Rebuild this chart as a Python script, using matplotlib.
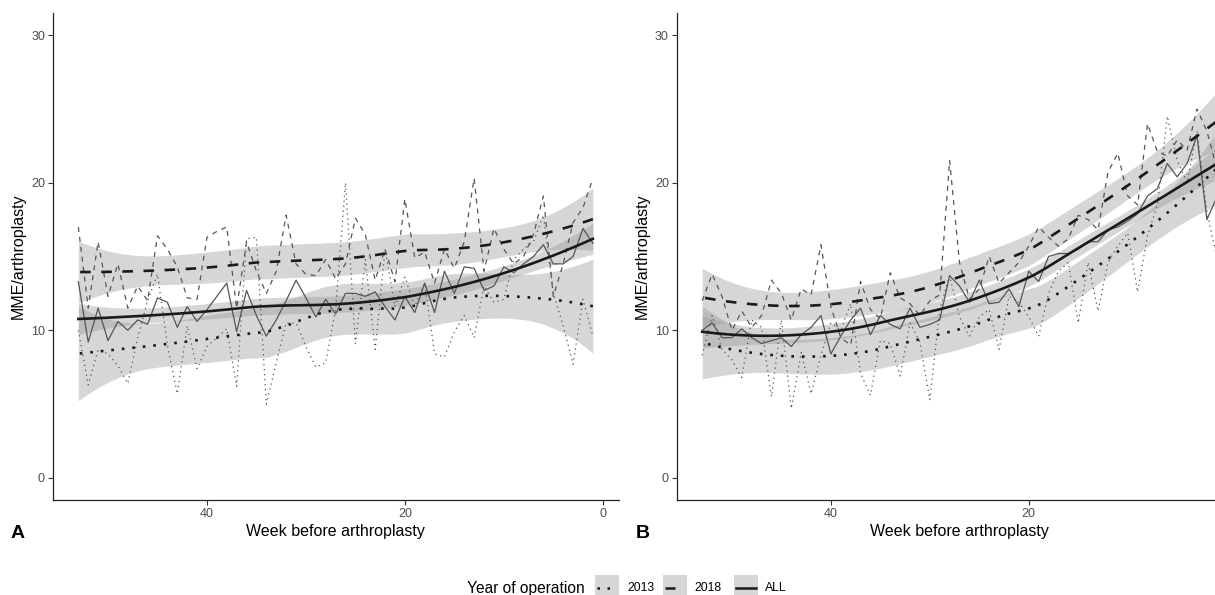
import numpy as np
import matplotlib.pyplot as plt
from matplotlib.patches import Rectangle
from matplotlib.lines import Line2D

plt.rcParams['font.family'] = ['Liberation Sans', 'DejaVu Sans']

# week before arthroplasty, 53 down to 1
weeks = list(range(53, 0, -1))

# panel A: MME per arthroplasty, weekly
a_2013 = [10.0, 6.3, 8.7, 8.4, 7.6, 6.4, 9.5, 12.0, 13.8, 9.0,
          5.7, 10.3, 7.4, 8.9, 9.5, 10.1, 6.2, 16.2, 16.3, 5.0,
          7.8, 10.5, 10.5, 8.9, 7.5, 7.8, 11.4, 20.0, 9.1, 14.8,
          8.7, 15.5, 11.6, 13.6, 11.6, 13.2, 8.4, 8.2, 9.9, 11.0,
          9.5, 13.0, 11.9, 12.1, 14.8, 15.5, 16.0, 17.8, 12.5, 10.3,
          7.7, 12.1, 9.6]
a_2018 = [17.0, 11.5, 16.0, 12.3, 14.5, 11.5, 13.0, 12.0, 16.4, 15.5,
          14.3, 12.2, 12.1, 16.3, 16.7, 17.0, 11.5, 16.0, 14.0, 12.5,
          14.0, 17.8, 14.5, 13.8, 13.7, 14.8, 13.5, 14.5, 17.6, 16.5,
          13.4, 15.5, 13.3, 18.9, 14.9, 15.3, 13.2, 15.5, 14.2, 16.0,
          20.3, 14.0, 16.9, 15.5, 14.5, 15.0, 16.5, 19.1, 12.3, 14.5,
          17.3, 18.3, 20.3]
a_all = [13.3, 9.2, 11.5, 9.3, 10.6, 10.0, 10.7, 10.4, 12.2, 11.9,
         10.2, 11.6, 10.6, 11.4, 12.3, 13.2, 9.9, 12.7, 11.0, 9.6,
         10.7, 12.0, 13.4, 12.2, 10.9, 12.1, 11.1, 12.5, 12.5, 12.3,
         12.6, 11.6, 10.7, 12.3, 11.2, 13.2, 11.2, 14.0, 12.5, 14.3,
         14.2, 12.7, 13.0, 14.3, 13.9, 14.5, 15.0, 15.8, 14.5, 14.5,
         15.0, 16.9, 15.9]

# panel B
b_2013 = [8.3, 11.0, 8.7, 8.0, 6.8, 10.7, 10.2, 5.5, 10.7, 4.7,
          8.5, 5.7, 8.3, 10.5, 10.0, 11.8, 7.1, 5.6, 9.3, 9.1,
          6.9, 10.5, 9.2, 5.3, 11.4, 13.7, 10.9, 9.6, 10.9, 11.4,
          8.7, 12.3, 11.9, 10.9, 9.6, 12.5, 14.0, 14.6, 10.5, 14.6,
          11.3, 14.6, 15.7, 16.6, 12.6, 16.4, 18.5, 24.5, 21.5, 20.0,
          23.5, 18.0, 15.0]
b_2018 = [12.0, 13.8, 12.3, 10.0, 11.3, 10.2, 11.0, 13.4, 12.5, 10.7,
          12.8, 12.4, 15.8, 11.6, 9.5, 9.0, 13.3, 11.4, 10.8, 13.9,
          12.2, 11.8, 11.0, 12.0, 12.4, 21.5, 14.6, 12.1, 12.8, 15.0,
          13.2, 13.9, 14.6, 15.7, 17.0, 16.3, 15.7, 16.2, 17.8, 17.5,
          16.8, 20.7, 22.0, 19.1, 18.5, 24.0, 22.1, 21.8, 22.9, 22.2,
          25.0, 23.5, 21.0]
b_all = [10.0, 10.5, 9.5, 9.5, 10.1, 9.5, 9.1, 9.3, 9.5, 8.9,
         9.7, 10.2, 11.0, 8.4, 9.6, 10.7, 11.5, 9.7, 11.0, 10.4,
         10.1, 11.5, 10.2, 10.4, 10.7, 13.7, 13.0, 11.9, 13.4, 11.8,
         11.9, 12.8, 11.6, 14.0, 13.3, 15.0, 15.2, 15.2, 15.5, 16.0,
         16.0, 16.8, 17.0, 17.4, 17.9, 19.1, 19.6, 21.3, 20.4, 21.3,
         23.2, 17.5, 19.0]

groups = ["2013", "2018", "ALL"]
linestyles = {"2013": (0, (1, 3)), "2018": (0, (4, 4)), "ALL": "solid"}

W, H = 1215, 595


# local quadratic loess (span 0.75) with standard errors, like geom_smooth
def loess_fit(x, y, xout, span=0.75):
    x = np.asarray(x, float)
    y = np.asarray(y, float)
    n = len(x)
    q = int(np.floor(n * span))

    def row(x0):
        d = np.abs(x - x0)
        h = np.sort(d)[q - 1]
        w = np.clip(1 - (d / h) ** 3, 0, None) ** 3
        X = np.column_stack([np.ones(n), x - x0, (x - x0) ** 2])
        XtW = X.T * w
        return np.linalg.solve(XtW @ X, XtW)[0]

    L = np.array([row(v) for v in x])
    res = y - L @ y
    IL = np.eye(n) - L
    s = np.sqrt(res @ res / np.trace(IL.T @ IL))
    Lout = np.array([row(v) for v in xout])
    return Lout @ y, s * np.sqrt((Lout ** 2).sum(axis=1))


def draw_panel(ax, series, xticks):
    for g, vals in zip(groups, series):
        ax.plot(weeks, vals, color='#555555', lw=0.9, linestyle=linestyles[g])
    grid = np.linspace(min(weeks), max(weeks), 80)
    for g, vals in zip(groups, series):
        fit, se = loess_fit(weeks, vals, grid)
        ax.fill_between(grid, fit - 2.02 * se, fit + 2.02 * se,
                        color='#999999', alpha=0.4, lw=0)
        ax.plot(grid, fit, color='#1a1a1a', lw=1.9, linestyle=linestyles[g])

    ax.set_xlim(55.6, -1.6)
    ax.set_ylim(-1.5, 31.5)
    ax.set_xticks(xticks)
    ax.set_yticks([0, 10, 20, 30])
    for side in ['top', 'right']:
        ax.spines[side].set_visible(False)
    for side in ['left', 'bottom']:
        ax.spines[side].set_linewidth(0.9)
        ax.spines[side].set_color('#222222')
    ax.tick_params(length=3.5, width=0.8, color='#333333', labelsize=9,
                   labelcolor='#4d4d4d', pad=2)
    ax.set_xlabel('Week before arthroplasty', fontsize=11.5, labelpad=3)
    ax.set_ylabel('MME/arthroplasty', fontsize=11.5, labelpad=4)


fig = plt.figure(figsize=(W / 100, H / 100), dpi=100)
ax_a = fig.add_axes([52.6 / W, 95 / H, 566 / W, 487 / H])
ax_b = fig.add_axes([676.5 / W, 95 / H, 566 / W, 487 / H])
draw_panel(ax_a, [a_2013, a_2018, a_all], [40, 20, 0])
# panel B runs off the right edge of the figure, its 0 tick is not shown
draw_panel(ax_b, [b_2013, b_2018, b_all], [40, 20])

fig.text(18 / W, 1 - 533 / H, 'A', fontsize=14, fontweight='bold', ha='center', va='center')
fig.text(643 / W, 1 - 533 / H, 'B', fontsize=14, fontweight='bold', ha='center', va='center')

# legend along the bottom
ly = 1 - 588 / H
fig.text(467 / W, ly, 'Year of operation', fontsize=11.2, ha='left', va='center')
keys = [(595, 627), (663, 694), (734, 765)]
for g, (kx, tx) in zip(groups, keys):
    fig.add_artist(Rectangle((kx / W, 1 - 601 / H), 24 / W, 26 / H,
                             transform=fig.transFigure, facecolor='#d6d6d6', edgecolor='none'))
    fig.add_artist(Line2D([(kx + 2) / W, (kx + 22) / W], [ly, ly], transform=fig.transFigure,
                          color='#1a1a1a', lw=1.8, linestyle=linestyles[g]))
    fig.text(tx / W, ly, g, fontsize=8.8, ha='left', va='center')

fig.savefig('out.png', dpi=100)
